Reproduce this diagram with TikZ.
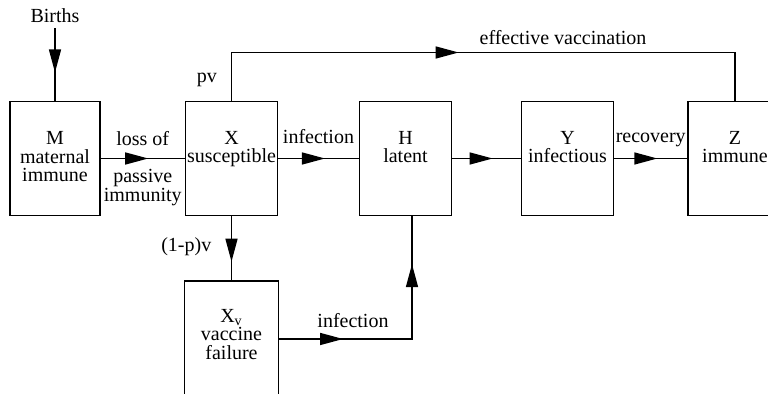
\documentclass[tikz,border=0pt]{standalone}
\usepackage{fontspec}
\setmainfont{Liberation Serif}
\usetikzlibrary{arrows.meta,decorations.markings,calc}

\begin{document}
\begin{tikzpicture}[x=0.5pt,y=-0.5pt,line width=0.7pt,
  >={Triangle[length=11.5pt,width=6pt]},
  every node/.style={font=\fontsize{10}{9.25}\selectfont},
  box/.style={draw,minimum width=46pt,minimum height=57pt,inner sep=0pt},
  txt/.style={align=center,anchor=base,inner sep=0pt},
  lbl/.style={align=center,anchor=base,inner sep=0pt},
  flow/.style={postaction={decorate},decoration={markings,
    mark=at position #1 with {\arrow{>}}}},
  flowtwo/.style 2 args={postaction={decorate},decoration={markings,
    mark=at position #1 with {\arrow{>}},mark=at position #2 with {\arrow{>}}}}]
\useasboundingbox (0,0) rectangle (768,394);
\clip (0,0) rectangle (768,394);
% compartments (text is anchored at the baseline of its last line)
\node[box,minimum width=45pt] (m) at (55,158.5) {};
\node[box] (x) at (231.5,158.5) {};
\node[box] (h) at (405.5,158.5) {};
\node[box] (y) at (567.5,158.5) {};
\node[box,minimum width=47pt] (z) at (735,158.5) {};
\node[box,minimum width=47pt,minimum height=58pt] (xv) at (231.5,339) {};
\node[txt] (mt) at ([yshift=-40.5pt]m.north) {M\\maternal\\immune};
\node[txt] (xt) at ([yshift=-31pt]x.north) {X\\susceptible};
\node[txt] (ht) at ([yshift=-31pt]h.north) {H\\latent};
\node[txt] (yt) at ([yshift=-31pt]y.north) {Y\\infectious};
\node[txt] (zt) at ([yshift=-31pt]z.north) {Z\\immune};
\node[txt] (xvt) at ([yshift=-39.5pt]xv.north) {X\textsubscript{v}\\vaccine\\failure};
% flows
\node[lbl,outer sep=2.75pt] (births) at (55,22.5) {Births};
\draw[flow=0.61] (births.south) -- (m.north);
\draw[flow=0.565] (m) -- (x)
  node[lbl,midway,yshift=6.25pt] (loss) {loss of}
  node[lbl,midway,yshift=-21.5pt] (passive) {passive\\immunity};
\draw[flow=0.58] (x) -- (h) node[lbl,midway,yshift=7.5pt] (inf) {infection};
\draw[flow=0.59] (h) -- (y);
\draw[flow=0.59] (y) -- (z) node[lbl,midway,yshift=7.75pt] (rec) {recovery};
\coordinate (vtop) at (735,52.5);
\draw[flow=0.459] (x.north) |- (vtop) -- (z.north);
\node[lbl] (pv) at (207,83) {pv};
\node[lbl] (vacc) at (563,45) {effective vaccination};
\draw[flow=0.71] (x) -- (xv);
\node[lbl,anchor=base east] (fail) at (212,252) {(1-p)v};
\draw[flowtwo={0.25}{0.8125}] (xv.east) -| ([xshift=3.25pt]h.south);
\node[lbl] (infv) at (353,328) {infection};
\end{tikzpicture}
\end{document}
